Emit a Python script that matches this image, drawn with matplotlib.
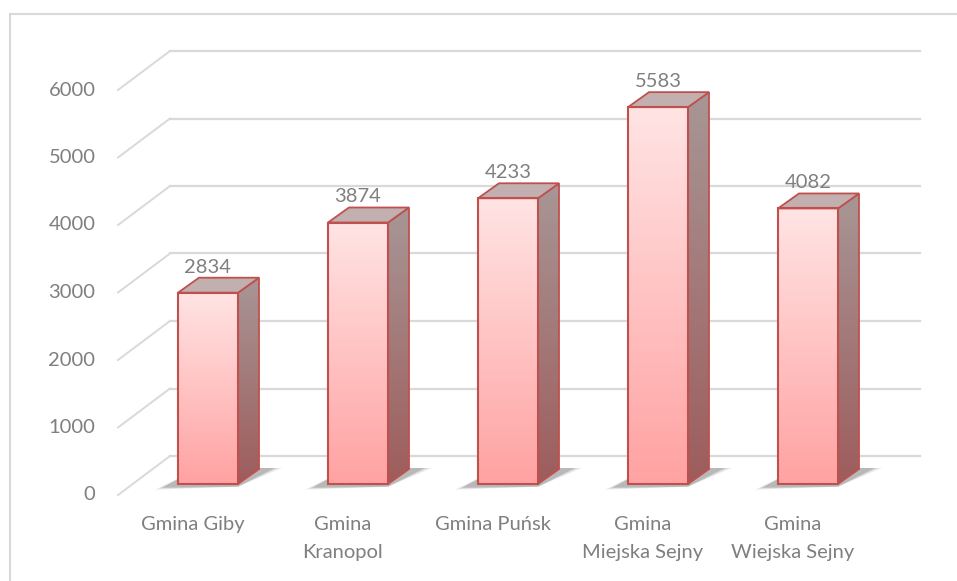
import numpy as np
import matplotlib
matplotlib.use('Agg')
from matplotlib import pyplot as plt
from matplotlib.patches import Polygon, Rectangle
from matplotlib.colors import LinearSegmentedColormap

plt.rcParams['font.family'] = ['Lato', 'DejaVu Sans']

# data
categories = ['Gmina Giby', 'Gmina\nKranopol', 'Gmina Puńsk',
              'Gmina\nMiejska Sejny', 'Gmina\nWiejska Sejny']
values = [2834, 3874, 4233, 5583, 4082]
yticks = [0, 1000, 2000, 3000, 4000, 5000, 6000]

W, H = 957, 581
fig = plt.figure(figsize=(W / 100, H / 100), dpi=100)
ax = fig.add_axes([0, 0, 1, 1])
ax.axis('off')

# front plane: category i centred at 193 + 150*i px, value 0 at y=495 px, 67.5 px per 1000
px_per_cat = 150.0
px_per_val = 0.0675
ax.set_xlim((0 - 118) / px_per_cat - 0.5, (W - 118) / px_per_cat - 0.5)
ax.set_ylim((495 - H) / px_per_val, 495 / px_per_val)


def dpx(dx, dy):
    # pixel offset -> data offset
    return dx / px_per_cat, dy / px_per_val


wall_dx, wall_dy = dpx(52, 39)
front_dx, front_dy = dpx(15, 11)
bar_dx, bar_dy = dpx(21, 15)
bar_w = 60 / px_per_cat

grid_col = '#D9D9D9'
text_col = '#7F7F7F'
edge_col = '#C0504D'
fs = 14.5

# back wall gridlines and slanted side lines
x_left, x_right = -0.5, len(categories) - 0.5
for v in yticks:
    ax.plot([x_left + wall_dx, x_right + wall_dx], [v + wall_dy, v + wall_dy],
            color=grid_col, lw=1.6, zorder=1)
    ax.plot([x_left, x_left + wall_dx], [v, v + wall_dy], color=grid_col, lw=1.4, zorder=1)
    ax.text(x_left - 0.15, v, str(v), ha='right', va='center', fontsize=fs, color=text_col)

front_cmap = LinearSegmentedColormap.from_list('front', ['#FFA2A2', '#FFE4E4'])
side_cmap = LinearSegmentedColormap.from_list('side', ['#9E5C5C', '#A89696'])
grad = np.linspace(0, 1, 256).reshape(-1, 1)

for i, (cat, v) in enumerate(zip(categories, values)):
    x0 = i - bar_w / 2 + front_dx
    x1 = i + bar_w / 2 + front_dx
    y0 = front_dy
    y1 = v + front_dy

    # soft shadow on the floor
    for k, a in enumerate([0.08, 0.12, 0.18]):
        s = (3 - k) * 0.025
        shadow = Polygon([(x0 - 0.08 - s, y0 - 40 - 15 * (3 - k)), (x1, y0 - 40),
                          (x1 + bar_dx + 0.08 + s, y0 + bar_dy + 15),
                          (x0 + bar_dx, y0 + bar_dy + 15)],
                         closed=True, facecolor='#303030', edgecolor='none',
                         alpha=a, zorder=2)
        ax.add_patch(shadow)

    # side face
    side = Polygon([(x1, y0), (x1 + bar_dx, y0 + bar_dy), (x1 + bar_dx, y1 + bar_dy), (x1, y1)],
                   closed=True, facecolor='none', edgecolor=edge_col, lw=1.3, zorder=4)
    ax.add_patch(side)
    im = ax.imshow(grad, cmap=side_cmap, origin='lower', aspect='auto',
                   extent=[x1, x1 + bar_dx, y0, y1 + bar_dy], zorder=3)
    im.set_clip_path(side)

    # top face
    top = Polygon([(x0, y1), (x1, y1), (x1 + bar_dx, y1 + bar_dy), (x0 + bar_dx, y1 + bar_dy)],
                  closed=True, facecolor='#C2B0B0', edgecolor=edge_col, lw=1.3, zorder=4)
    ax.add_patch(top)

    # front face
    ax.imshow(grad, cmap=front_cmap, origin='lower', aspect='auto',
              extent=[x0, x1, y0, y1], zorder=3)
    ax.add_patch(Rectangle((x0, y0), x1 - x0, y1 - y0, facecolor='none',
                           edgecolor=edge_col, lw=1.5, zorder=5))

    # value label
    ax.text((x0 + x1) / 2, y1 + bar_dy + 30, str(v), ha='center', va='bottom',
            fontsize=fs, color=text_col, zorder=6)

    # category label
    ax.text(i, -310, cat, ha='center', va='top', fontsize=fs, color=text_col,
            linespacing=1.8)

# chart border (left and top)
ax.plot([ax.get_xlim()[0] + 10 / px_per_cat] * 2,
        [(495 - H) / px_per_val, (495 - 14) / px_per_val], color=grid_col, lw=1.5)
ax.plot([ax.get_xlim()[0] + 10 / px_per_cat, ax.get_xlim()[1]],
        [(495 - 14) / px_per_val] * 2, color=grid_col, lw=1.5)

fig.savefig('out.png', dpi=100)
